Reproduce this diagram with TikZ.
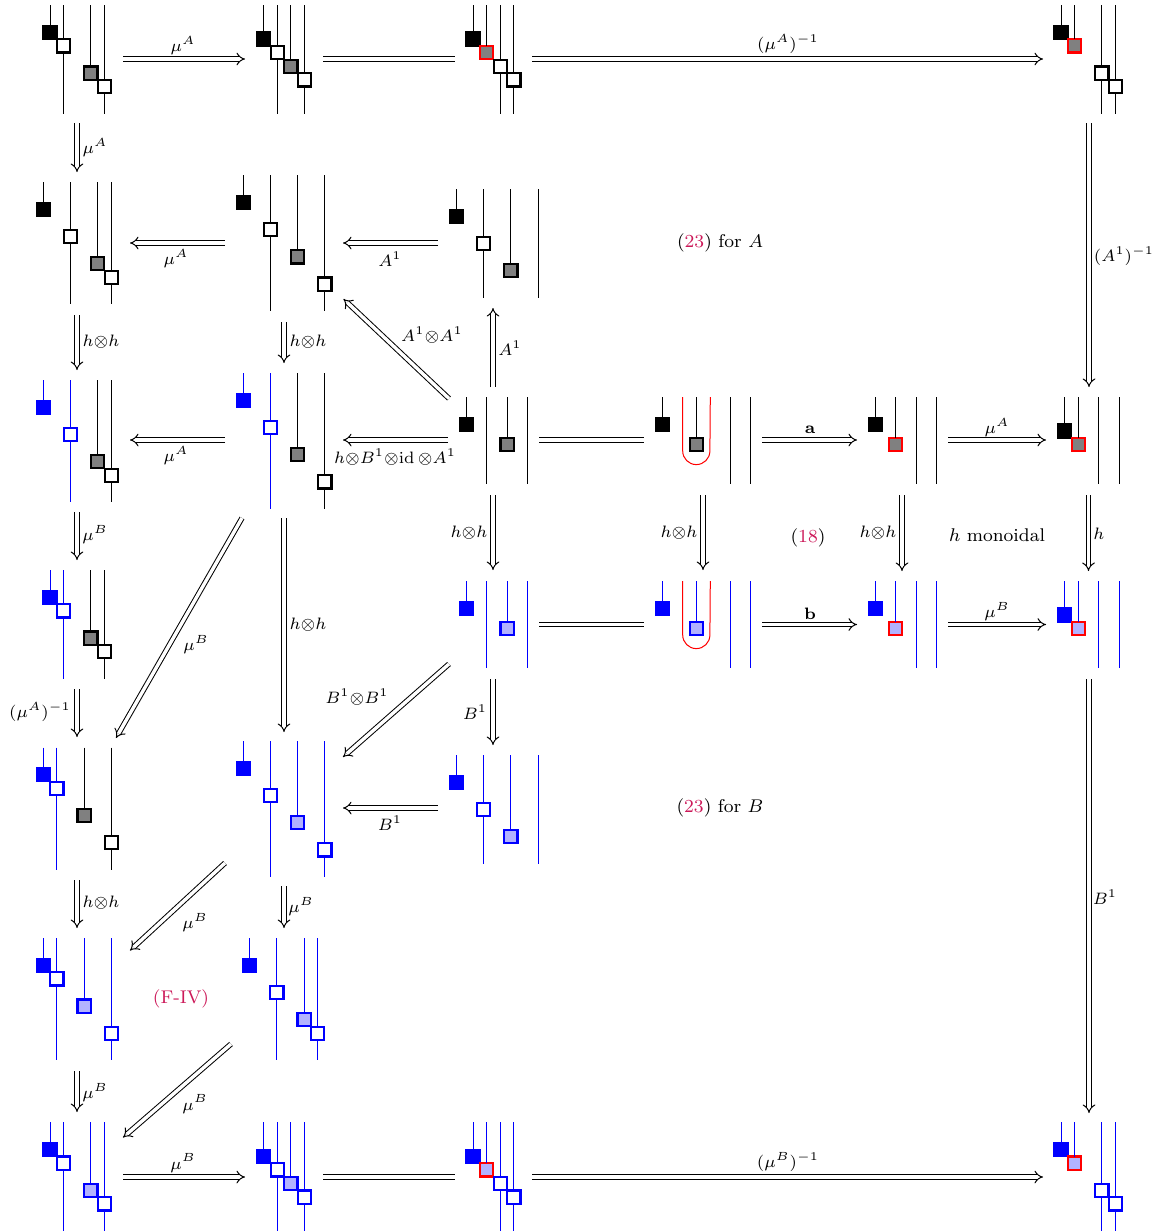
\documentclass[tikz,border=0pt]{standalone}
\usetikzlibrary{arrows.meta}
\definecolor{refcol}{rgb}{0.8,0.1,0.35}
\tikzset{
  wire/.style={line width=0.5pt},
  sq/.style={rectangle,draw,line width=1.1pt,minimum size=6.6pt,inner sep=0pt,outer sep=0pt},
  bA/.style={sq,draw=black,fill=black},
  wA/.style={sq,draw=black,fill=white},
  gA/.style={sq,draw=black,fill=black!50},
  rA/.style={sq,draw=red,fill=black!50},
  bB/.style={sq,draw=blue,fill=blue},
  wB/.style={sq,draw=blue,fill=white},
  gB/.style={sq,draw=blue,fill=blue!30},
  rB/.style={sq,draw=red,fill=blue!30},
  dbl/.style={line width=0.5pt,double,double distance=1.7pt},
  dar/.style={dbl,-{Implies[length=3.2pt,width=7pt]}},
  lbl/.style={inner sep=0pt,scale=1.18},
  txt/.style={inner sep=0pt,font=\footnotesize,scale=1.15}
}
% one string diagram: name, x0, y0, bottom (grid units), list col/colour/kind/y/style
\newcommand{\dgke}[7]{\coordinate (#1-t) at (#2,#3);\node[#7] (#1) at (#2,#5) {};\draw[wire,#6] (#1-t) -- (#1);}
\newcommand{\dgkf}[7]{\coordinate (#1-t) at (#2,#3);\coordinate (#1-b) at (#2,#4);\draw[wire,#6] (#1-t) -- (#1-b);\node[#7] (#1) at (#2,#5) {};}
\newcommand{\dgkn}[7]{\coordinate (#1-t) at (#2,#3);\coordinate (#1-b) at (#2,#4);\draw[wire,#6] (#1-t) -- (#1-b);}
\newcommand{\dg}[5]{%
  \foreach \c/\col/\k/\yy/\st [count=\ni] in {#5}{%
    \pgfmathsetmacro{\xx}{#2+\c*13.6}%
    \pgfmathsetmacro{\ya}{#3}%
    \pgfmathsetmacro{\yb}{#3+#4*13.6}%
    \pgfmathsetmacro{\yc}{#3+\yy*13.6}%
    \edef\tmpname{#1-\ni}%
    \csname dgk\k\endcsname{\tmpname}{\xx}{\ya}{\yb}{\yc}{\col}{\st}%
  }%
}
% arrow: name, x1,y1,x2,y2, style, then label x,y,text
\newcommand{\arr}[9]{\coordinate (#1-s) at (#2,#3);\coordinate (#1-e) at (#4,#5);\draw[#6] (#1-s) -- (#1-e);\node[lbl] (#1-l) at (#7,#8) {$\scriptstyle #9$};}
\newcommand{\eqq}[5]{\coordinate (#1-s) at (#2,#3);\coordinate (#1-e) at (#4,#5);\draw[dbl] (#1-s) -- (#1-e);}
\begin{document}
\begin{tikzpicture}[x=0.5pt,y=-0.5pt]
\useasboundingbox (0,0) rectangle (1158,1232);
% row 1
\dg{d11}{50}{5}{8}{0/black/e/2/bA,1/black/f/3/wA,3/black/e/5/gA,4/black/f/6/wA}
\dg{d12}{263.6}{5}{8}{0/black/e/2.5/bA,1/black/f/3.5/wA,2/black/e/4.5/gA,3/black/f/5.5/wA}
\dg{d13}{473}{5}{8}{0/black/e/2.5/bA,1/black/e/3.5/rA,2/black/f/4.5/wA,3/black/f/5.5/wA}
\dg{d14}{1061}{5}{8}{0/black/e/2/bA,1/black/e/3/rA,3/black/f/5/wA,4/black/f/6/wA}
% row 2
\dg{d21}{43.2}{182}{9}{0/black/e/2/bA,2/black/f/4/wA,4/black/e/6/gA,5/black/f/7/wA}
\dg{d22}{243.2}{175.3}{10}{0/black/e/2/bA,2/black/f/4/wA,4/black/e/6/gA,6/black/f/8/wA}
\dg{d23}{456.4}{189}{8}{0/black/e/2/bA,2/black/f/4/wA,4/black/e/6/gA,6/black/n/0/wA}
% row 3
\dg{d31}{43.2}{380}{9}{0/blue/e/2/bB,2/blue/f/4/wB,4/black/e/6/gA,5/black/f/7/wA}
\dg{d32}{243.2}{373}{10}{0/blue/e/2/bB,2/blue/f/4/wB,4/black/e/6/gA,6/black/f/8/wA}
\dg{d33}{466.3}{397}{6.42}{0/black/e/2/bA,1.5/black/n/0/wA,3/black/e/3.5/gA,4.5/black/n/0/wA}
\draw[wire,red] (682.7,397) -- (682.7,451) arc[start angle=180,end angle=360,radius=6.8pt] -- (710.3,397);
\dg{d34}{662.3}{397}{6.42}{0/black/e/2/bA,2.5/black/e/3.5/gA,5/black/n/0/wA,6.5/black/n/0/wA}
\dg{d35}{875.3}{397}{6.42}{0/black/e/2/bA,1.5/black/e/3.5/rA,3/black/n/0/wA,4.5/black/n/0/wA}
\dg{d36}{1064.7}{397}{6.42}{0/black/e/2.5/bA,1/black/e/3.5/rA,2.5/black/n/0/wA,4/black/n/0/wA}
% row 4
\dg{d41}{50}{570}{8}{0/blue/e/2/bB,1/blue/f/3/wB,3/black/e/5/gA,4/black/f/6/wA}
\dg{d43}{466.3}{581}{6.42}{0/blue/e/2/bB,1.5/blue/n/0/wB,3/blue/e/3.5/gB,4.5/blue/n/0/wB}
\draw[wire,red] (682.7,581) -- (682.7,635) arc[start angle=180,end angle=360,radius=6.8pt] -- (710.3,581);
\dg{d44}{662.3}{581}{6.42}{0/blue/e/2/bB,2.5/blue/e/3.5/gB,5/blue/n/0/wB,6.5/blue/n/0/wB}
\dg{d45}{875.3}{581}{6.42}{0/blue/e/2/bB,1.5/blue/e/3.5/rB,3/blue/n/0/wB,4.5/blue/n/0/wB}
\dg{d46}{1064.7}{581}{6.42}{0/blue/e/2.5/bB,1/blue/e/3.5/rB,2.5/blue/n/0/wB,4/blue/n/0/wB}
% row 5
\dg{d51}{43.2}{747.5}{9}{0/blue/e/2/bB,1/blue/f/3/wB,3/black/e/5/gA,5/black/f/7/wA}
\dg{d52}{243.2}{741}{10}{0/blue/e/2/bB,2/blue/f/4/wB,4/blue/e/6/gB,6/blue/f/8/wB}
\dg{d53}{456.4}{755}{8}{0/blue/e/2/bB,2/blue/f/4/wB,4/blue/e/6/gB,6/blue/n/0/wB}
% row 6
\dg{d61}{43.2}{938}{9}{0/blue/e/2/bB,1/blue/f/3/wB,3/blue/e/5/gB,5/blue/f/7/wB}
\dg{d62}{249.7}{938}{9}{0/blue/e/2/bB,2/blue/f/4/wB,4/blue/e/6/gB,5/blue/f/7/wB}
% row 7
\dg{d71}{50}{1122.3}{8}{0/blue/e/2/bB,1/blue/f/3/wB,3/blue/e/5/gB,4/blue/f/6/wB}
\dg{d72}{263.6}{1122.3}{8}{0/blue/e/2.5/bB,1/blue/f/3.5/wB,2/blue/e/4.5/gB,3/blue/f/5.5/wB}
\dg{d73}{473}{1122.3}{8}{0/blue/e/2.5/bB,1/blue/e/3.5/rB,2/blue/f/4.5/wB,3/blue/f/5.5/wB}
\dg{d74}{1061}{1122.3}{8}{0/blue/e/2/bB,1/blue/e/3/rB,3/blue/f/5/wB,4/blue/f/6/wB}
% horizontal arrows
\arr{a1}{123}{59}{245}{59}{dar}{183}{46}{\mu^A}
\eqq{e1}{323}{59}{455}{59}
\arr{a2}{532}{59}{1043}{59}{dar}{788}{44}{(\mu^A)^{-1}}
\arr{a3}{225}{243}{130}{243}{dar}{176}{259}{\mu^A}
\arr{a4}{438}{243}{343}{243}{dar}{390}{259}{A^1}
\arr{a5}{225}{440}{130}{440}{dar}{176}{456}{\mu^A}
\arr{a6}{448}{440}{343}{440}{dar}{395}{457}{h{\otimes}B^1{\otimes}\mathrm{id}\,{\otimes}A^1}
\eqq{e2}{539}{440}{644}{440}
\arr{a7}{762}{440}{857}{440}{dar}{810}{430}{\mathbf{a}}
\arr{a8}{948}{440}{1046}{440}{dar}{997}{428}{\mu^A}
\eqq{e3}{539}{624.5}{644}{624.5}
\arr{a9}{762}{624.5}{857}{624.5}{dar}{810}{614}{\mathbf{b}}
\arr{a10}{948}{624.5}{1046}{624.5}{dar}{997}{612}{\mu^B}
\arr{a11}{438}{808}{343}{808}{dar}{390}{823}{B^1}
\arr{a12}{123}{1177}{245}{1177}{dar}{183}{1163}{\mu^B}
\eqq{e4}{323}{1177}{455}{1177}
\arr{a13}{532}{1177}{1043}{1177}{dar}{788}{1162}{(\mu^B)^{-1}}
% vertical arrows
\arr{v1}{77}{123}{77}{172}{dar}{95}{148}{\mu^A}
\arr{v2}{1089}{123}{1089}{387}{dar}{1124}{256}{(A^1)^{-1}}
\arr{v3}{77}{315}{77}{370}{dar}{101}{342}{h{\otimes}h}
\arr{v4}{284}{322}{284}{363}{dar}{308}{342}{h{\otimes}h}
\arr{v5}{493}{387}{493}{308}{dar}{510}{348}{A^1}
\arr{v6}{77}{512}{77}{560}{dar}{95}{535}{\mu^B}
\arr{v7}{284}{518}{284}{732}{dar}{308}{625}{h{\otimes}h}
\arr{v8}{493}{495}{493}{570}{dar}{469}{533}{h{\otimes}h}
\arr{v9}{703}{495}{703}{570}{dar}{679}{533}{h{\otimes}h}
\arr{v10}{902}{495}{902}{571}{dar}{878}{533}{h{\otimes}h}
\arr{v11}{1088.5}{495}{1088.5}{571}{dar}{1099}{534}{h}
\arr{v12}{493}{679}{493}{745}{dar}{475}{712}{B^1}
\arr{v13}{1089}{679}{1089}{1113}{dar}{1105}{897}{B^1}
\arr{v14}{77}{689}{77}{737}{dar}{40}{712}{(\mu^A)^{-1}}
\arr{v15}{77}{880}{77}{928}{dar}{101}{903}{h{\otimes}h}
\arr{v16}{284}{886}{284}{928}{dar}{301}{907}{\mu^B}
\arr{v17}{77}{1071}{77}{1112}{dar}{95}{1093}{\mu^B}
% diagonal arrows
\arr{g1}{449}{398.5}{343.5}{299}{dar}{432}{335}{A^1{\otimes}A^1}
\arr{g2}{242}{518}{116}{738}{dar}{196}{645}{\mu^B}
\arr{g3}{449}{664}{343}{757}{dar}{357}{697}{B^1{\otimes}B^1}
\arr{g4}{225}{863}{130}{950.5}{dar}{195}{923}{\mu^B}
\arr{g5}{231}{1044}{123}{1137.5}{dar}{195}{1104}{\mu^B}
% region labels
\node[txt] (t1) at (720,243) {(\textcolor{refcol}{23}) for $A$};
\node[txt] (t2) at (720,808) {(\textcolor{refcol}{23}) for $B$};
\node[txt] (t3) at (808,538) {(\textcolor{refcol}{18})};
\node[txt] (t4) at (997,535) {$h$ monoidal};
\node[txt,text=refcol] (t5) at (181,999) {(F-IV)};
\end{tikzpicture}
\end{document}
